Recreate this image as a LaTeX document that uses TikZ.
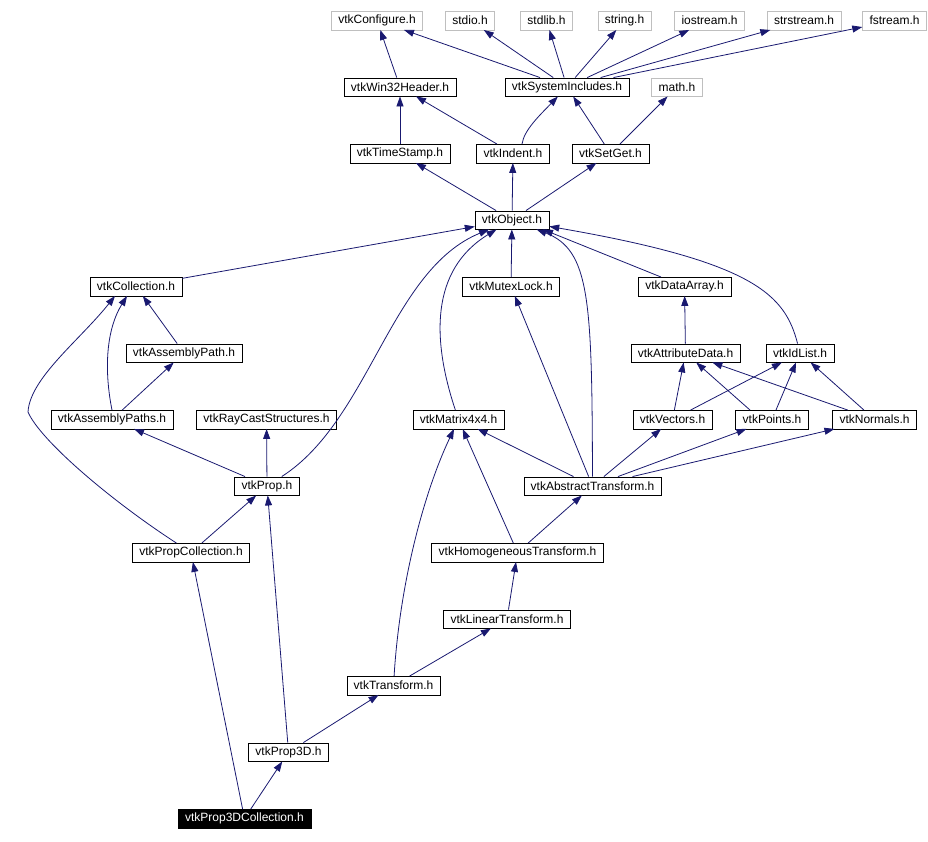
\documentclass[tikz,border=0pt]{standalone}
\usepackage{fontspec}
\setmainfont{Liberation Sans}
\usetikzlibrary{arrows.meta}
\definecolor{depblue}{RGB}{25,25,112}

\begin{document}
\begin{tikzpicture}[x=1pt, y=1pt,
  hdr/.style={draw=black, fill=white, font=\fontsize{12}{14}\selectfont, inner xsep=7pt, inner ysep=0pt, minimum height=18.5pt},
  sys/.style={hdr, draw=black!25},
  cur/.style={hdr, fill=black, text=white},
  dep/.style={draw=depblue, line width=0.8pt, -{Triangle[length=10pt,width=7pt]}}]
  \useasboundingbox (0,0) rectangle (928,-842);
  \node[sys] (cfg) at (377,-20.5) {vtkConfigure.h};
  \node[sys] (stdio) at (470,-20.5) {stdio.h};
  \node[sys] (stdlib) at (546.5,-20.5) {stdlib.h};
  \node[sys] (string) at (624.5,-20.5) {string.h};
  \node[sys] (iostream) at (709.5,-20.5) {iostream.h};
  \node[sys] (strstream) at (804,-20.5) {strstream.h};
  \node[sys] (fstream) at (894.5,-20.5) {fstream.h};
  \node[hdr] (win) at (400,-87) {vtkWin32Header.h};
  \node[hdr] (sysinc) at (567,-87) {vtkSystemIncludes.h};
  \node[sys] (math) at (677,-87) {math.h};
  \node[hdr] (ts) at (400,-153.5) {vtkTimeStamp.h};
  \node[hdr] (ind) at (513,-153.5) {vtkIndent.h};
  \node[hdr] (sg) at (610.5,-153.5) {vtkSetGet.h};
  \node[hdr] (obj) at (512,-220) {vtkObject.h};
  \node[hdr] (coll) at (136,-286.5) {vtkCollection.h};
  \node[hdr] (mutex) at (511,-286.5) {vtkMutexLock.h};
  \node[hdr] (da) at (684.5,-286.5) {vtkDataArray.h};
  \node[hdr] (ap) at (184,-353) {vtkAssemblyPath.h};
  \node[hdr] (ad) at (685.5,-353) {vtkAttributeData.h};
  \node[hdr] (idl) at (800,-353) {vtkIdList.h};
  \node[hdr] (aps) at (112,-419.5) {vtkAssemblyPaths.h};
  \node[hdr] (rcs) at (266.5,-419.5) {vtkRayCastStructures.h};
  \node[hdr] (mat) at (458.5,-419.5) {vtkMatrix4x4.h};
  \node[hdr] (vec) at (672.5,-419.5) {vtkVectors.h};
  \node[hdr] (pts) at (772,-419.5) {vtkPoints.h};
  \node[hdr] (nrm) at (874.5,-419.5) {vtkNormals.h};
  \node[hdr] (prop) at (267,-486) {vtkProp.h};
  \node[hdr] (abs) at (592.5,-486) {vtkAbstractTransform.h};
  \node[hdr] (pc) at (191,-552.5) {vtkPropCollection.h};
  \node[hdr] (hom) at (517.5,-552.5) {vtkHomogeneousTransform.h};
  \node[hdr] (lin) at (507,-619) {vtkLinearTransform.h};
  \node[hdr] (tr) at (393.5,-685.5) {vtkTransform.h};
  \node[hdr] (p3d) at (288.5,-752) {vtkProp3D.h};
  \node[cur] (p3dc) at (244.5,-818.5) {vtkProp3DCollection.h};
  \foreach \a/\b in {win/cfg, sysinc/cfg, sysinc/stdio, sysinc/stdlib, sysinc/string,
      sysinc/iostream, sysinc/strstream, sysinc/fstream, ts/win, ind/win, sg/sysinc,
      sg/math, obj/ts, obj/ind, obj/sg, coll/obj, mutex/obj, ap/coll, aps/ap, ad/da,
      vec/ad, vec/idl, pts/idl, nrm/ad, nrm/idl, prop/aps, prop/rcs, abs/mat,
      abs/mutex, abs/vec, abs/pts, abs/nrm, pc/prop, hom/abs, hom/mat, lin/hom,
      tr/lin, p3d/tr, p3d/prop, p3dc/p3d, p3dc/pc}
    \draw[dep] (\a) -- (\b);
  \draw[dep] ([xshift=9pt]ind.north) .. controls (524,-130) and (540,-115) .. (sysinc);
  \draw[dep] (da) -- ([xshift=31pt]obj.south);
  \draw[dep] ([xshift=-22pt]pts.north) -- (ad);
  \draw[dep] (idl) .. controls (785,-295) and (755,-262) .. (obj);
  \draw[dep] (prop) .. controls (370,-420) and (390,-270) .. (obj);
  \draw[dep] (mat) .. controls (432,-340) and (430,-270) .. (obj);
  \draw[dep] (abs) .. controls (592,-300) and (590,-250) .. (obj);
  \draw[dep] (aps.north) .. controls (104,-370) and (106,-330) .. ([xshift=-9pt]coll.south);
  \draw[dep] (pc) .. controls (110,-500) and (40,-440) .. (28,-412)
    .. controls (30,-378) and (80,-340) .. ([xshift=-21pt]coll.south);
  \draw[dep] (tr) .. controls (400,-580) and (425,-490) .. (mat);
\end{tikzpicture}
\end{document}
